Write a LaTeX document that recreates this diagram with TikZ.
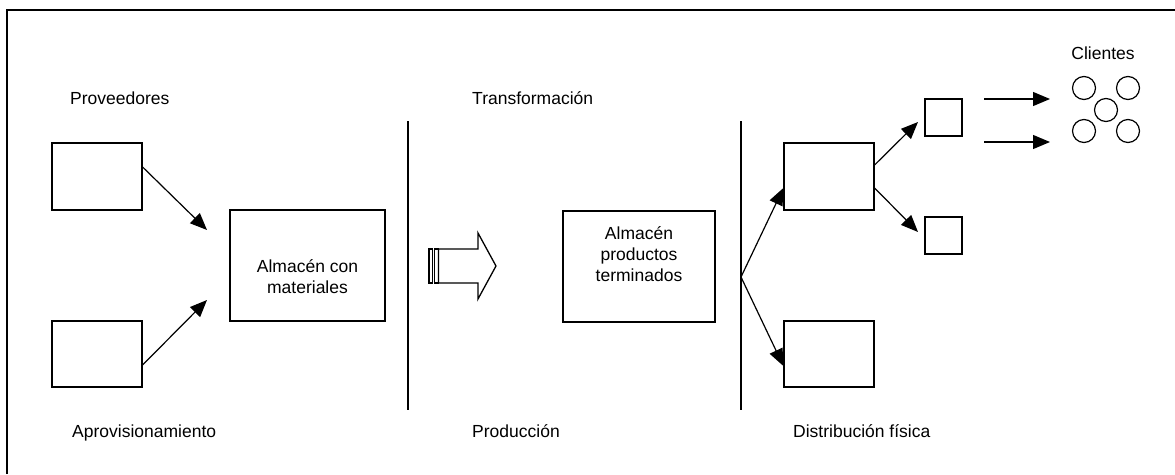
\documentclass[tikz,border=0pt]{standalone}
\usepackage{fontspec}
\setmainfont{Liberation Sans}
\usetikzlibrary{arrows.meta,calc}
\begin{document}
\begin{tikzpicture}[x=1pt,y=-1pt,
  every node/.style={font=\fontsize{17.5}{21}\selectfont},
  stagebox/.style={draw,line width=1.2pt,inner sep=0pt,minimum width=#1},
  stagebox/.default=90pt,
  label text/.style={anchor=base west,inner sep=0pt},
  box text/.style={align=center,inner sep=0pt},
  flow/.style={line width=1.2pt,-{Triangle[length=17pt,width=14pt]}},
  divider/.style={line width=1.2pt},
  client/.style={draw,circle,line width=1.2pt,minimum size=23pt,inner sep=0pt}]
\useasboundingbox (0,0) rectangle (1175,474);

% outer frame
\draw[line width=1.8pt] (7,474) -- (7,10) -- (1175,10);

% stage titles
\node[label text] (tprov) at (70,104) {Proveedores};
\node[label text] (taprov) at (72,437) {Aprovisionamiento};
\node[label text] (ttrans) at (472,104) {Transformación};
\node[label text] (tprod) at (472,437) {Producción};
\node[label text] (tdist) at (793,437) {Distribución física};
\node[anchor=base,inner sep=0pt] (tcli) at (1103,59) {Clientes};

% suppliers and raw materials store
\node[stagebox,minimum height=67pt] (p1) at (97,176.5) {};
\node[stagebox,minimum height=66pt] (p2) at (97,354) {};
\node[stagebox=155pt,minimum height=111pt] (am) at (307.5,265.5) {};
\node[box text] (amtext) at (307.5,277) {Almacén con\\materiales};

\coordinate (tipA) at (207,230);
\coordinate (tipB) at (207,300);
\draw[flow] ([yshift=9.5pt]p1.east) -- (tipA);
\draw[flow] ([yshift=-11pt]p2.east) -- (tipB);

% section dividers
\coordinate (d1top) at (408,121);
\coordinate (d1bot) at (408,410);
\coordinate (d2top) at (741,121);
\coordinate (d2bot) at (741,410);
\draw[divider] (d1top) -- (d1bot);
\draw[divider] (d2top) -- (d2bot);

% striped block arrow for production
\begin{scope}[line width=1.3pt]
  \draw (429,249) rectangle (432.5,283);
  \draw (434.5,249) rectangle (438.5,283);
  \draw (438.5,249) -- (478,249) -- (478,233) -- (496,266)
        -- (478,299) -- (478,283) -- (438.5,283) -- cycle;
\end{scope}

% finished goods store
\node[stagebox=152pt,minimum height=111pt] (ap) at (639,266.5) {};
\node[box text] (aptext) at (639,254) {Almacén\\productos\\terminados};

% physical distribution
\node[stagebox,minimum height=67pt] (d1) at (829,176.5) {};
\node[stagebox,minimum height=66pt] (d2) at (829,354) {};
\node[stagebox=37pt,minimum height=37pt] (s1) at (943.5,117.5) {};
\node[stagebox=37pt,minimum height=37pt] (s2) at (943.5,235.5) {};

\coordinate (split) at (741,277);
\draw[flow] (split) -- ([yshift=-11.5pt]d1.west);
\draw[flow] (split) -- ([yshift=-12pt]d2.west);
\coordinate (tipC) at (918,122);
\coordinate (tipD) at (918,232);
\draw[flow] ([yshift=11.5pt]d1.east) -- (tipC);
\draw[flow] ([yshift=-11.5pt]d1.east) -- (tipD);

% customers
\node[client] (c1) at (1084,88) {};
\node[client] (c2) at (1128,88) {};
\node[client] (c3) at (1106,110) {};
\node[client] (c4) at (1084,131) {};
\node[client] (c5) at (1128,131) {};

\coordinate (outA) at (984,99);
\coordinate (outB) at (984,142);
\coordinate (inA) at (1050,99);
\coordinate (inB) at (1050,142);
\draw[flow] (outA) -- (inA);
\draw[flow] (outB) -- (inB);
\end{tikzpicture}
\end{document}
